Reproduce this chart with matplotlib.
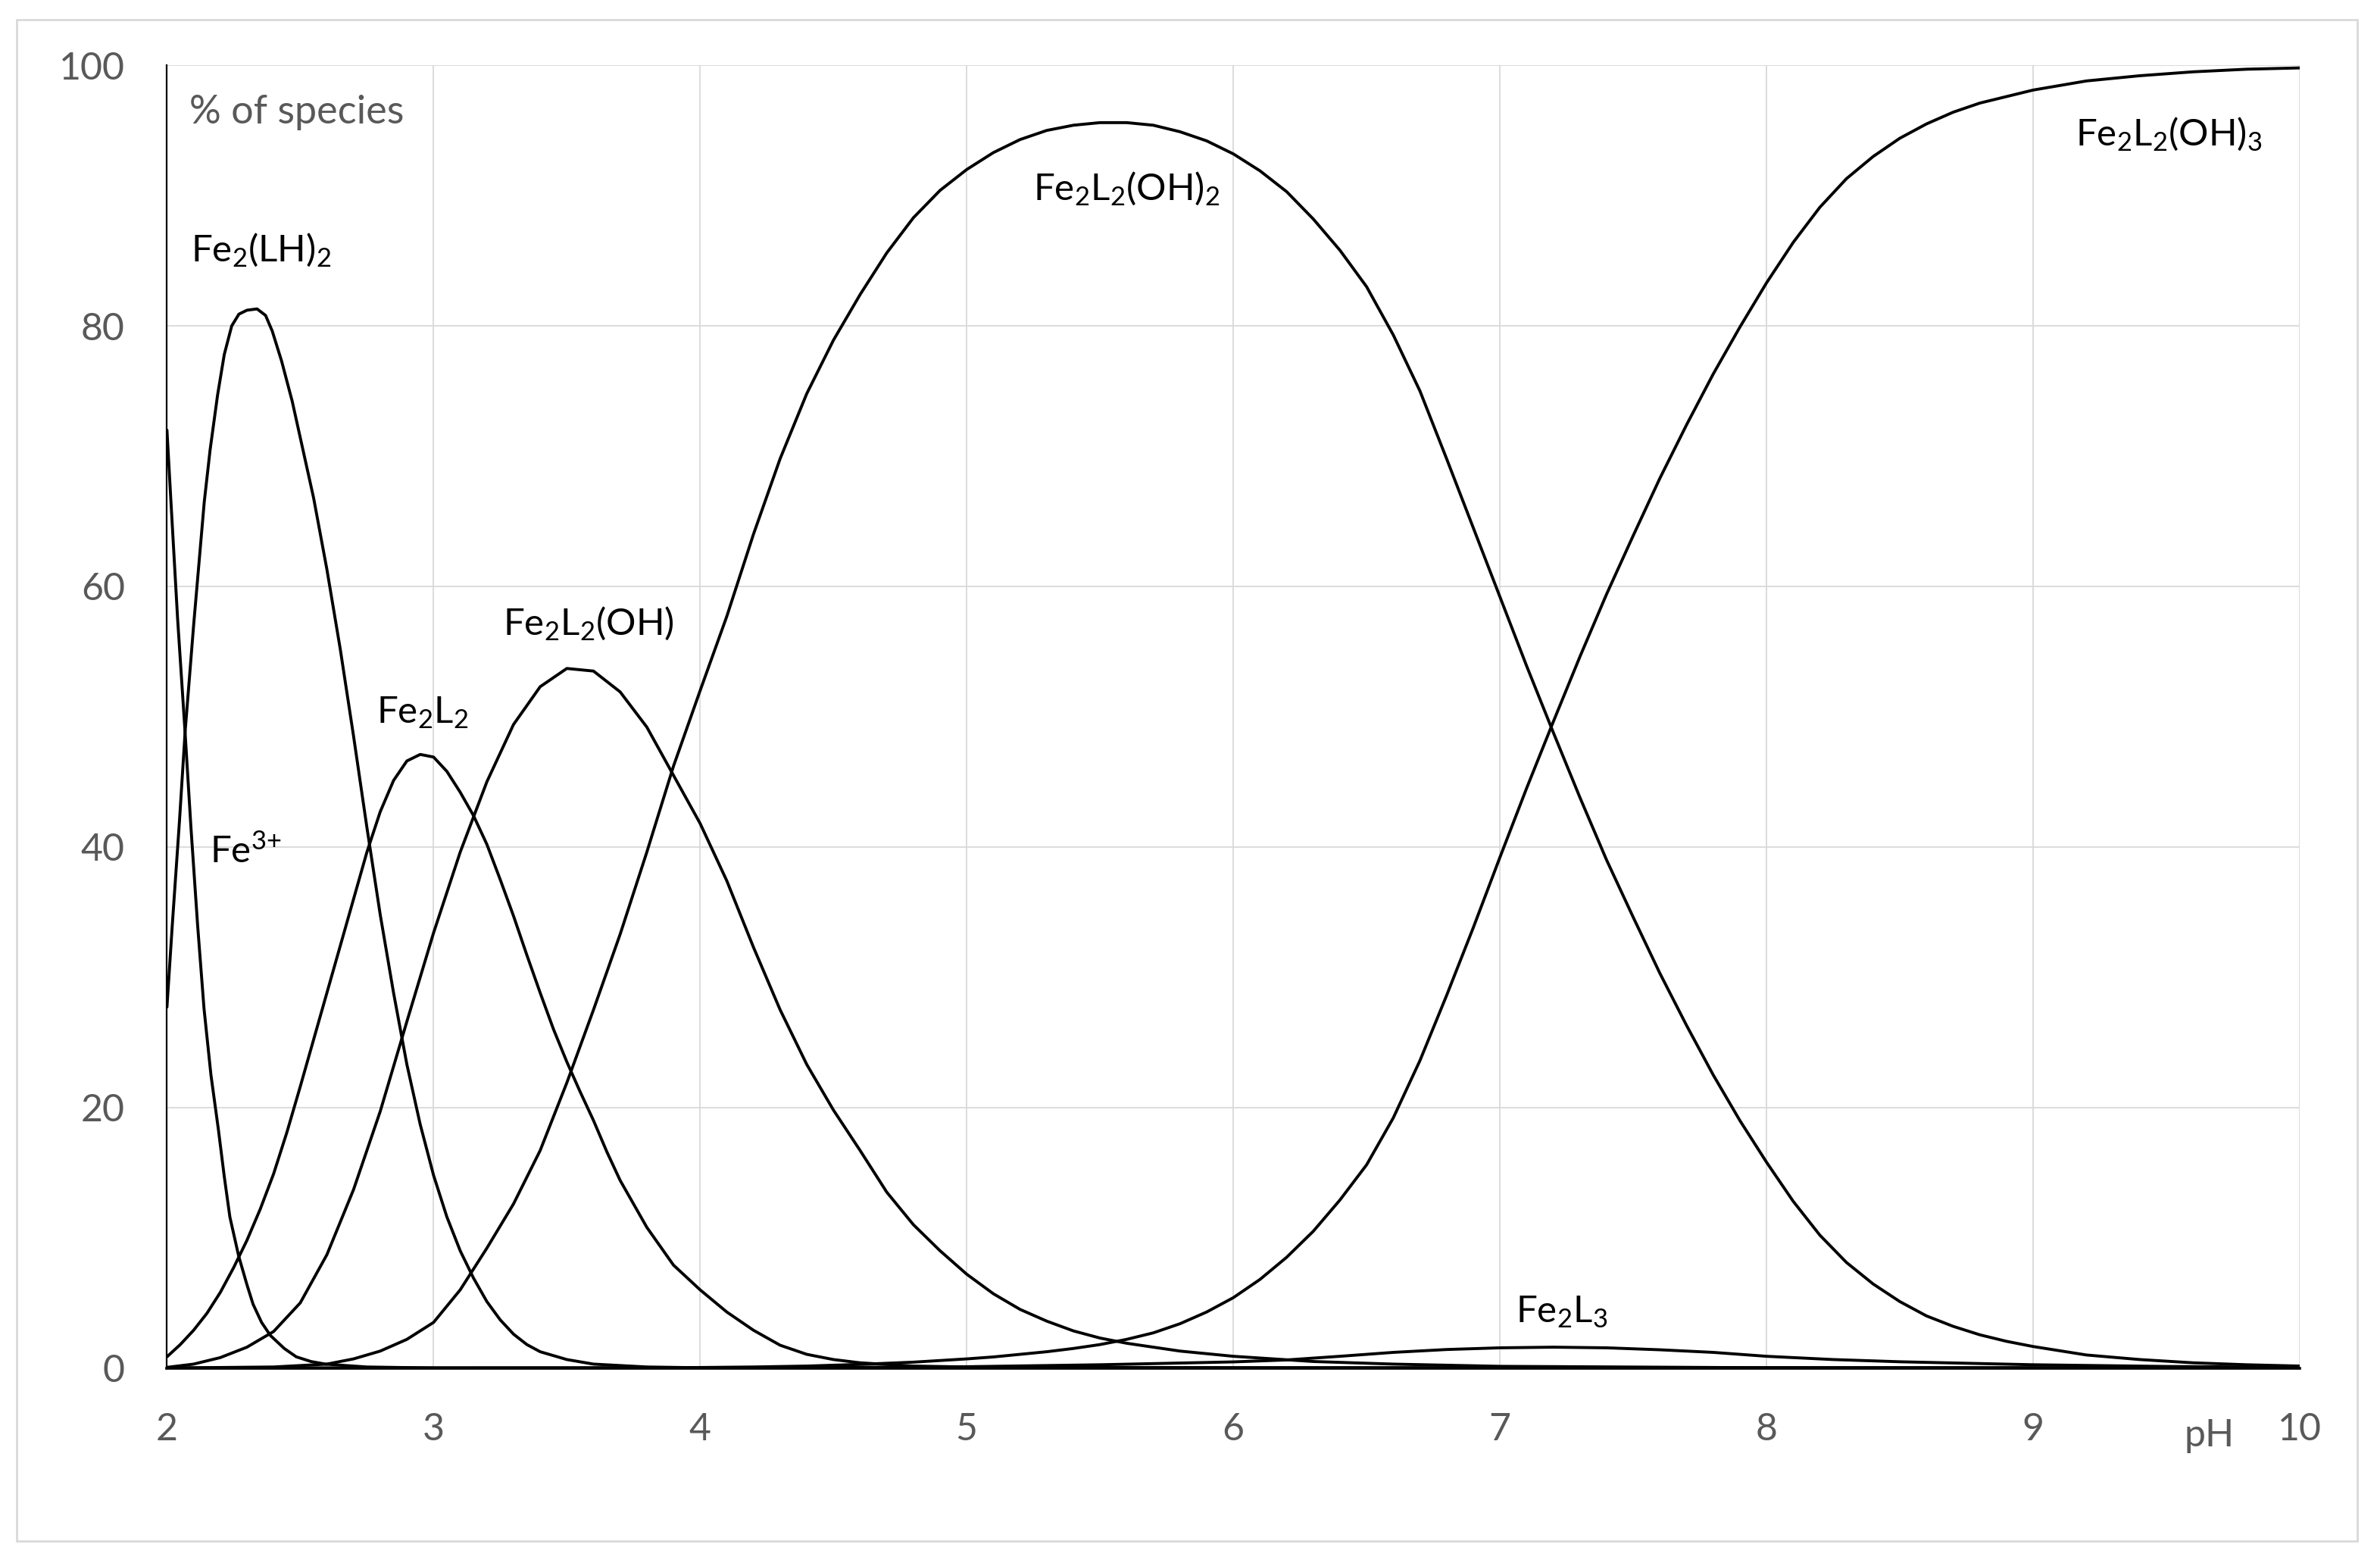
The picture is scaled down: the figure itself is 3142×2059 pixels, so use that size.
import matplotlib.pyplot as plt
from matplotlib.patches import Rectangle

# species distribution (pH, % of species)
ph_fe3 = [2.0, 2.015, 2.04, 2.068, 2.09, 2.115, 2.139, 2.165, 2.193, 2.215, 2.236, 2.269,
          2.3, 2.323, 2.355, 2.388, 2.44, 2.485, 2.54, 2.594, 2.75, 3.0, 10.0]
pct_fe3 = [72, 66.5, 57.5, 48.8, 41.5, 34, 27.6, 22.5, 18.3, 14.7, 11.6, 8.6,
           6.4, 4.9, 3.5, 2.5, 1.5, 0.86, 0.5, 0.3, 0.08, 0, 0]

ph_fe2lh2 = [2.0, 2.02, 2.047, 2.068, 2.1, 2.14, 2.162, 2.19, 2.215, 2.243, 2.27, 2.3,
             2.338, 2.37, 2.395, 2.43, 2.47, 2.51, 2.55, 2.6, 2.65, 2.7, 2.75, 2.8,
             2.85, 2.9, 2.95, 3.0, 3.05, 3.1, 3.15, 3.2, 3.25, 3.3, 3.35, 3.4,
             3.5, 3.6, 3.8, 4.0, 10.0]
pct_fe2lh2 = [27.7, 34, 42, 48.8, 57, 66.5, 70.5, 74.7, 77.8, 80.0, 80.9, 81.2,
              81.3, 80.8, 79.6, 77.3, 74.2, 70.5, 66.8, 61.3, 55.2, 48.5, 41.5, 34.8,
              28.8, 23.3, 18.7, 14.8, 11.6, 9.0, 6.9, 5.1, 3.7, 2.6, 1.8, 1.25,
              0.65, 0.3, 0.08, 0.02, 0]

ph_fe2l2 = [2.0, 2.05, 2.1, 2.15, 2.2, 2.25, 2.3, 2.35, 2.4, 2.45, 2.5, 2.55,
            2.6, 2.65, 2.7, 2.75, 2.8, 2.85, 2.9, 2.95, 3.0, 3.05, 3.1, 3.15,
            3.2, 3.25, 3.3, 3.35, 3.4, 3.45, 3.5, 3.55, 3.6, 3.65, 3.7, 3.8,
            3.9, 4.0, 4.1, 4.2, 4.3, 4.4, 4.5, 4.6, 4.8, 5.0, 6.0, 10.0]
pct_fe2l2 = [0.86, 1.8, 2.9, 4.2, 5.8, 7.7, 9.8, 12.2, 14.9, 18.1, 21.6, 25.2,
             28.8, 32.4, 36.0, 39.6, 42.7, 45.1, 46.6, 47.1, 46.9, 45.8, 44.2, 42.4,
             40.2, 37.5, 34.7, 31.7, 28.8, 26.0, 23.5, 21.2, 19.0, 16.6, 14.4, 10.8,
             7.9, 6.0, 4.3, 2.9, 1.75, 1.05, 0.65, 0.4, 0.15, 0.08, 0.02, 0]

ph_fe2l2oh = [2.0, 2.1, 2.2, 2.3, 2.4, 2.5, 2.6, 2.7, 2.8, 2.9, 3.0, 3.1,
              3.2, 3.3, 3.4, 3.5, 3.6, 3.7, 3.8, 3.9, 4.0, 4.1, 4.2, 4.3,
              4.4, 4.5, 4.6, 4.7, 4.8, 4.9, 5.0, 5.1, 5.2, 5.3, 5.4, 5.5,
              5.6, 5.8, 6.0, 6.3, 6.6, 7.0, 8.0, 10.0]
pct_fe2l2oh = [0.05, 0.3, 0.8, 1.6, 2.8, 5.0, 8.7, 13.7, 19.7, 26.6, 33.4, 39.6,
               45.0, 49.4, 52.3, 53.7, 53.5, 51.9, 49.2, 45.5, 41.8, 37.4, 32.3, 27.5,
               23.3, 19.8, 16.7, 13.5, 11.0, 9.0, 7.2, 5.7, 4.5, 3.6, 2.85, 2.3,
               1.9, 1.3, 0.9, 0.5, 0.3, 0.13, 0.02, 0]

ph_fe2l2oh2 = [2.0, 2.4, 2.6, 2.7, 2.8, 2.9, 3.0, 3.1, 3.2, 3.3, 3.4, 3.5,
               3.6, 3.7, 3.8, 3.9, 4.0, 4.1, 4.2, 4.3, 4.4, 4.5, 4.6, 4.7,
               4.8, 4.9, 5.0, 5.1, 5.2, 5.3, 5.4, 5.5, 5.6, 5.7, 5.8, 5.9,
               6.0, 6.1, 6.2, 6.3, 6.4, 6.5, 6.6, 6.7, 6.8, 6.9, 7.0, 7.1,
               7.2, 7.3, 7.4, 7.5, 7.6, 7.7, 7.8, 7.9, 8.0, 8.1, 8.2, 8.3,
               8.4, 8.5, 8.6, 8.7, 8.8, 8.9, 9.0, 9.2, 9.4, 9.6, 9.8, 10.0]
pct_fe2l2oh2 = [0, 0.08, 0.3, 0.7, 1.3, 2.2, 3.5, 6.0, 9.2, 12.6, 16.7, 21.9,
                27.5, 33.3, 39.6, 46.2, 52.0, 57.7, 64.0, 69.8, 74.8, 78.9, 82.4, 85.6,
                88.3, 90.4, 92.0, 93.3, 94.3, 95.0, 95.4, 95.6, 95.6, 95.4, 94.9, 94.2,
                93.2, 91.9, 90.3, 88.2, 85.8, 83.0, 79.3, 75.0, 69.8, 64.5, 59.2, 53.9,
                48.8, 43.8, 39.0, 34.6, 30.3, 26.3, 22.5, 19.0, 15.8, 12.8, 10.2, 8.1,
                6.45, 5.1, 4.0, 3.2, 2.55, 2.05, 1.65, 1.0, 0.65, 0.4, 0.25, 0.15]

ph_fe2l2oh3 = [2.0, 3.5, 4.0, 4.2, 4.4, 4.6, 4.8, 5.0, 5.1, 5.2, 5.3, 5.4,
               5.5, 5.6, 5.7, 5.8, 5.9, 6.0, 6.1, 6.2, 6.3, 6.4, 6.5, 6.6,
               6.7, 6.8, 6.9, 7.0, 7.1, 7.2, 7.3, 7.4, 7.5, 7.6, 7.7, 7.8,
               7.9, 8.0, 8.1, 8.2, 8.3, 8.4, 8.5, 8.6, 8.7, 8.8, 8.9, 9.0,
               9.2, 9.4, 9.6, 9.8, 10.0]
pct_fe2l2oh3 = [0, 0.01, 0.04, 0.08, 0.15, 0.28, 0.45, 0.7, 0.85, 1.05, 1.25, 1.5,
                1.8, 2.2, 2.7, 3.4, 4.3, 5.4, 6.8, 8.5, 10.5, 12.9, 15.6, 19.2,
                23.6, 28.6, 33.8, 39.2, 44.5, 49.6, 54.6, 59.4, 63.9, 68.3, 72.4, 76.3,
                79.9, 83.3, 86.4, 89.1, 91.3, 93.0, 94.4, 95.5, 96.4, 97.1, 97.6, 98.1,
                98.8, 99.2, 99.5, 99.7, 99.8]

ph_fe2l3 = [2.0, 4.0, 5.0, 5.5, 6.0, 6.2, 6.4, 6.6, 6.8, 7.0, 7.2, 7.4,
            7.6, 7.8, 8.0, 8.25, 8.5, 9.0, 9.5, 10.0]
pct_fe2l3 = [0, 0, 0.1, 0.25, 0.47, 0.62, 0.9, 1.2, 1.42, 1.55, 1.6, 1.55,
             1.4, 1.2, 0.9, 0.65, 0.48, 0.25, 0.12, 0.05]

# label text, x, y (baseline) in data units
labels = [
    (r"Fe$_{2}$(LH)$_{2}$", 2.09, 85.0),
    (r"Fe$^{\text{3+}}$", 2.16, 38.8),
    (r"Fe$_{2}$L$_{2}$", 2.785, 49.5),
    (r"Fe$_{2}$L$_{2}$(OH)", 3.26, 56.3),
    (r"Fe$_{2}$L$_{2}$(OH)$_{2}$", 5.25, 89.7),
    (r"Fe$_{2}$L$_{2}$(OH)$_{3}$", 9.16, 93.9),
    (r"Fe$_{2}$L$_{3}$", 7.06, 3.5),
]

plt.rcParams["font.family"] = ["Lato", "DejaVu Sans"]
plt.rcParams["mathtext.fontset"] = "custom"
plt.rcParams["mathtext.rm"] = "Lato"
plt.rcParams["mathtext.it"] = "Lato:italic"
plt.rcParams["mathtext.bf"] = "Lato:bold"

W, H = 3142, 2059
fig = plt.figure(figsize=(W / 100, H / 100), dpi=100)
ax = fig.add_axes([220.4 / W, (H - 1805.6) / H, (3036 - 220.4) / W, (1805.6 - 86.2) / H])

# outer chart frame
fig.patches.append(Rectangle((22 / W, (H - 2034) / H), (3112 - 22) / W, (2034 - 26) / H,
                             transform=fig.transFigure, fill=False,
                             edgecolor="#d9d9d9", linewidth=2))

series = [(ph_fe3, pct_fe3), (ph_fe2lh2, pct_fe2lh2), (ph_fe2l2, pct_fe2l2),
          (ph_fe2l2oh, pct_fe2l2oh), (ph_fe2l2oh2, pct_fe2l2oh2),
          (ph_fe2l2oh3, pct_fe2l2oh3), (ph_fe2l3, pct_fe2l3)]
for x, y in series:
    ax.plot(x, y, color="black", linewidth=2.8, solid_joinstyle="round",
            solid_capstyle="round")

ax.set_xlim(2, 10)
ax.set_ylim(0, 100)
ax.set_xticks(range(2, 11))
ax.set_yticks(range(0, 101, 20))
ax.grid(True, color="#d9d9d9", linewidth=1.3)
ax.set_axisbelow(True)
ax.tick_params(length=0, labelsize=36, labelcolor="#595959")
ax.tick_params(axis="x", pad=42)
ax.tick_params(axis="y", pad=40)
for side in ["top", "right"]:
    ax.spines[side].set_visible(False)
ax.spines["left"].set_linewidth(1.6)
ax.spines["bottom"].set_linewidth(2.6)

ax.text(2.085, 96.4, "% of species", fontsize=37.5, color="#595959", va="center", ha="left")
ax.text(9.66, -5.2, "pH", fontsize=36, color="#595959", va="center", ha="center",
        clip_on=False)

for txt, x, y in labels:
    ax.text(x, y, txt, fontsize=35.5, color="black", ha="left", va="baseline")

fig.savefig("out.png", dpi=100)
